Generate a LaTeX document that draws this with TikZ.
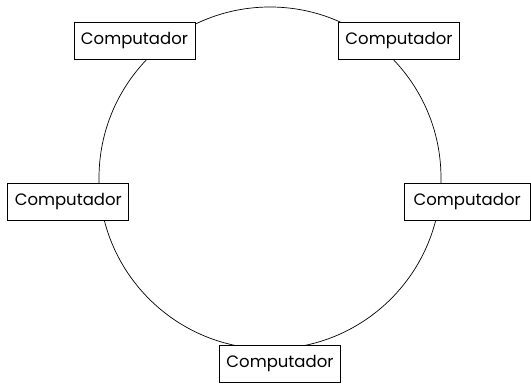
\documentclass[tikz,border=0pt]{standalone}
\usepackage{fontspec}
\setmainfont{Poppins}
\begin{document}
\begin{tikzpicture}[x=1pt,y=1pt,
  pc/.style={draw, line width=0.7pt, fill=white, minimum width=121pt, minimum height=37pt, inner sep=0pt, font=\fontsize{16.5}{19}\selectfont}]
\useasboundingbox (0,0) rectangle (531,385);
\draw[line width=0.7pt] (270,207) circle (171);
\node[pc] (tl) at (134.5,344) {Computador};
\node[pc] (tr) at (399,344) {Computador};
\node[pc] (l) at (68.3,183) {Computador};
\node[pc, minimum width=125.5pt] (r) at (467.2,183) {Computador};
\node[pc] (b) at (280,21.3) {Computador};
\end{tikzpicture}
\end{document}
